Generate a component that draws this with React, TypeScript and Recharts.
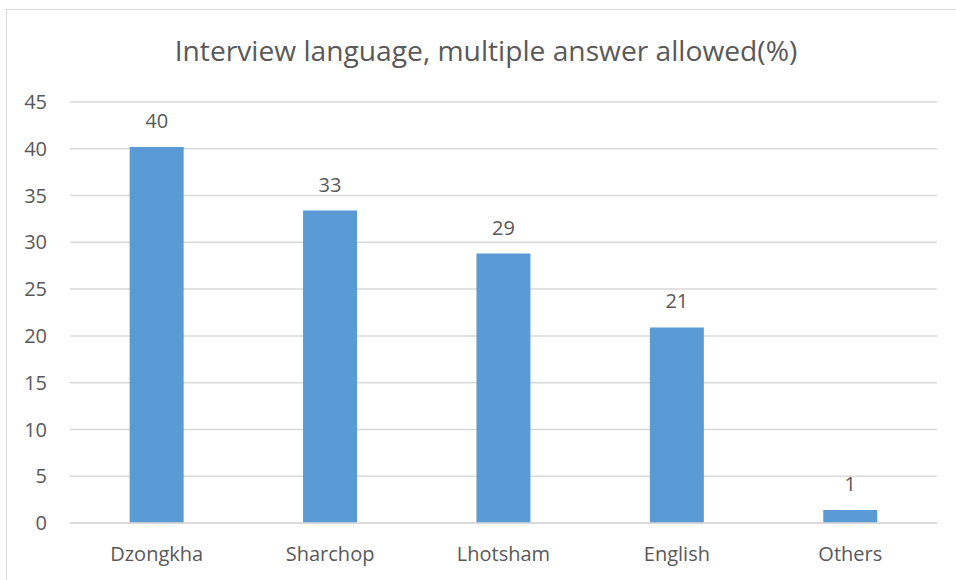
import React from "react";
import { BarChart, Bar, XAxis, YAxis, CartesianGrid, LabelList } from "recharts";

const categories = ["Dzongkha", "Sharchop", "Lhotsham", "English", "Others"];
const values = [40.2, 33.4, 28.8, 20.9, 1.4];
const yTicks = [0, 5, 10, 15, 20, 25, 30, 35, 40, 45];
const title = "Interview language, multiple answer allowed(%)";

const data = categories.map((c, i) => ({ name: c, value: values[i] }));

const FONT = "'Open Sans', sans-serif";
const TEXT = "#595959";

export default function App() {
  return (
    <div style={{ position: "absolute", left: 0, top: 0, width: 956, height: 580, overflow: "hidden", background: "#fff" }}>
      <div style={{ position: "absolute", left: 6, top: 9, width: 1000, height: 700, border: "1px solid #d9d9d9", boxSizing: "border-box" }} />
      <div style={{ position: "absolute", left: 0, top: 30, width: 972, textAlign: "center", fontFamily: FONT, fontSize: 28.2, color: TEXT, lineHeight: "40px" }}>
        {title}
      </div>
      <div style={{ position: "absolute", left: 0, top: 0 }}>
        <BarChart width={956} height={580} data={data} margin={{ top: 102, right: 19, bottom: 27, left: 0 }} barCategoryGap="34.4%">
          <CartesianGrid vertical={false} stroke="#d9d9d9" strokeWidth={1.5} />
          <XAxis dataKey="name" axisLine={{ stroke: "#d9d9d9", strokeWidth: 1.5 }} tickLine={false} tick={{ fill: TEXT, fontSize: 20, fontFamily: FONT }} tickMargin={18} />
          <YAxis domain={[0, 45]} ticks={yTicks} width={70} axisLine={false} tickLine={false} tickSize={0} tickMargin={23} tick={{ fill: TEXT, fontSize: 20, fontFamily: FONT }} interval={0} />
          <Bar dataKey="value" fill="#5b9bd5" isAnimationActive={false}>
            <LabelList dataKey="value" position="top" offset={19} formatter={(v: number) => Math.round(v)} style={{ fill: TEXT, fontSize: 20, fontFamily: FONT }} />
          </Bar>
        </BarChart>
      </div>
    </div>
  );
}
